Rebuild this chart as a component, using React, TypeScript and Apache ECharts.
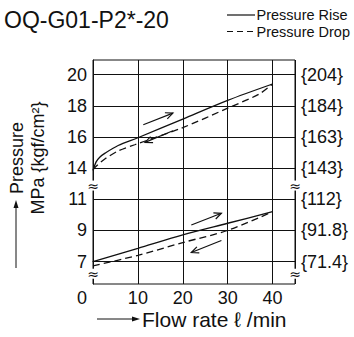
import React, { useEffect, useRef } from "react";
import * as echarts from "echarts";

// ---- data ----
const flowTicksMax = 45;
const leftTickLabels = ["7", "9", "11", "14", "16", "18", "20"];
const rightTickLabels = ["{71.4}", "{91.8}", "{112}", "{143}", "{163}", "{184}", "{204}"];
const tickIdx = [0, 1, 2, 3, 4, 5, 6];

const flowUpperRise = [0, 0.7, 1.5, 2.7, 5.6, 10, 20, 30, 40];
const pUpperRise = [13.85, 14.4, 14.7, 14.96, 15.45, 15.95, 17.15, 18.35, 19.4];
const flowUpperDrop = [0, 1, 2.7, 5.6, 9.3, 20, 30, 37, 40];
const pUpperDrop = [13.9, 14.2, 14.6, 15.1, 15.5, 16.6, 17.85, 18.75, 19.4];

const flowLower = [0, 10, 20, 30, 40];
const pLowerRise = [7.0, 7.85, 8.72, 9.46, 10.2];
const pLowerDrop = [6.72, 7.4, 8.22, 9.0, 10.2];

const legendNames = ["Pressure Rise", "Pressure Drop"];

// arrows: [flowStart, pStart, flowEnd, pEnd]
const arrowsUpper = [
  [11.2, 16.78, 17.8, 17.53],
  [17.8, 16.4, 11.6, 15.65],
];
const arrowsLower = [
  [21.9, 9.35, 28.6, 10.1],
  [28.6, 8.35, 21.9, 7.58],
];
// axis break marks: [flow, axis index]
const breakMarks = [
  [0, 2.44],
  [45, 2.44],
  [0, -0.39],
  [45, -0.39],
];

// broken pressure scale → linear index
const upperIdx = (p: number) => 3 + (p - 14) / 2;
const lowerIdx = (p: number) => (p - 7) / 2;

const FONT = "'Liberation Sans', Arial, Helvetica, sans-serif";
const INK = "#111";
const DASH = [7, 4];

export default function App() {
  const ref = useRef<HTMLDivElement>(null);
  useEffect(() => {
    if (!ref.current) return;
    const chart = echarts.init(ref.current, null, { renderer: "svg" });

    const mk = (fl: number[], ps: number[], f: (p: number) => number) =>
      fl.map((x, i) => [x, f(ps[i])]);

    const arrowData = [
      ...arrowsUpper.map((a) => [a[0], upperIdx(a[1]), a[2], upperIdx(a[3])]),
      ...arrowsLower.map((a) => [a[0], lowerIdx(a[1]), a[2], lowerIdx(a[3])]),
    ];

    const lineCommon = {
      type: "line",
      showSymbol: false,
      symbol: "none",
      smooth: 0.3,
      silent: true,
      xAxisIndex: 0,
      yAxisIndex: 0,
    };

    chart.setOption({
      animation: false,
      textStyle: { fontFamily: FONT },
      title: {
        text: "OQ-G01-P2*-20",
        left: 4,
        top: 8,
        padding: 0,
        textStyle: { fontSize: 23, fontWeight: "normal", color: INK, fontFamily: FONT },
      },
      grid: {
        left: 93,
        right: 59,
        top: 60,
        bottom: 53,
        containLabel: false,
        show: true,
        borderColor: INK,
        borderWidth: 1,
        backgroundColor: "transparent",
      },
      xAxis: {
        type: "value",
        min: 0,
        max: flowTicksMax,
        interval: 10,
        axisLine: { show: true, lineStyle: { color: INK, width: 1 } },
        axisTick: { show: false },
        splitLine: { show: true, lineStyle: { color: INK, width: 1 } },
        axisLabel: {
          fontSize: 18,
          color: INK,
          margin: 5,
          fontFamily: FONT,
          formatter: (v: number) => (v === 0 ? "{z|0}" : v === 45 ? "" : String(v)),
          rich: { z: { fontSize: 18, color: INK, fontFamily: FONT, padding: [0, 22, 0, 0] } },
        },
      },
      yAxis: [
        {
          type: "value",
          min: -0.72,
          max: 6.47,
          axisLine: { show: true, lineStyle: { color: INK, width: 1 } },
          axisTick: { show: false, customValues: tickIdx },
          splitLine: { show: false },
          axisLabel: {
            customValues: tickIdx,
            fontSize: 18,
            color: INK,
            margin: 6,
            fontFamily: FONT,
            formatter: (v: number) => leftTickLabels[Math.round(v)] ?? "",
          },
        },
        {
          type: "value",
          position: "right",
          min: -0.72,
          max: 6.47,
          axisLine: { show: false },
          axisTick: { show: false, customValues: tickIdx },
          splitLine: { show: false },
          axisLabel: {
            customValues: tickIdx,
            fontSize: 18,
            color: INK,
            margin: 6,
            fontFamily: FONT,
            formatter: (v: number) => rightTickLabels[Math.round(v)] ?? "",
          },
        },
      ],
      series: [
        {
          ...lineCommon,
          name: legendNames[0],
          data: mk(flowUpperRise, pUpperRise, upperIdx),
          lineStyle: { color: INK, width: 1.3, type: "solid" },
          itemStyle: { color: INK },
          markLine: {
            silent: true,
            symbol: ["none", "none"],
            label: { show: false },
            lineStyle: { color: INK, width: 1, type: "solid" },
            data: tickIdx.map((i) => ({ yAxis: i })),
          },
        },
        {
          ...lineCommon,
          name: legendNames[0],
          data: mk(flowLower, pLowerRise, lowerIdx),
          lineStyle: { color: INK, width: 1.3, type: "solid" },
          itemStyle: { color: INK },
        },
        {
          ...lineCommon,
          name: legendNames[1],
          data: mk(flowUpperDrop, pUpperDrop, upperIdx),
          lineStyle: { color: INK, width: 1.3, type: DASH },
          itemStyle: { color: INK },
        },
        {
          ...lineCommon,
          name: legendNames[1],
          data: mk(flowLower, pLowerDrop, lowerIdx),
          lineStyle: { color: INK, width: 1.3, type: DASH },
          itemStyle: { color: INK },
        },
        {
          type: "custom",
          silent: true,
          clip: false,
          z: 5,
          encode: { x: [0, 2], y: [1, 3] },
          data: arrowData,
          renderItem: (params: any, api: any) => {
            const s = api.coord([api.value(0), api.value(1)]);
            const e = api.coord([api.value(2), api.value(3)]);
            const ang = Math.atan2(e[1] - s[1], e[0] - s[0]);
            const L = 8;
            const a = 0.42;
            const h1 = [e[0] - L * Math.cos(ang - a), e[1] - L * Math.sin(ang - a)];
            const h2 = [e[0] - L * Math.cos(ang + a), e[1] - L * Math.sin(ang + a)];
            return {
              type: "group",
              children: [
                {
                  type: "line",
                  shape: { x1: s[0], y1: s[1], x2: e[0], y2: e[1] },
                  style: { stroke: INK, lineWidth: 1.2 },
                },
                {
                  type: "polyline",
                  shape: { points: [h1, e, h2] },
                  style: { stroke: INK, fill: "none", lineWidth: 1.2 },
                },
              ],
            };
          },
        },
        {
          type: "custom",
          silent: true,
          clip: false,
          z: 6,
          encode: { x: 0, y: 1 },
          data: breakMarks,
          renderItem: (params: any, api: any) => {
            const p = api.coord([api.value(0), api.value(1)]);
            return {
              type: "group",
              children: [
                {
                  type: "rect",
                  shape: { x: p[0] - 2, y: p[1] - 5, width: 4, height: 10 },
                  style: { fill: "#fff" },
                },
                {
                  type: "text",
                  x: p[0],
                  y: p[1],
                  style: {
                    text: "≈",
                    fontSize: 14,
                    fontFamily: "'DejaVu Sans', sans-serif",
                    fill: INK,
                    align: "center",
                    verticalAlign: "middle",
                  },
                },
              ],
            };
          },
        },
      ],
      graphic: [
        // legend
        {
          type: "line",
          shape: { x1: 227, y1: 15, x2: 255, y2: 15 },
          style: { stroke: INK, lineWidth: 1.2 },
        },
        {
          type: "text",
          x: 256.5,
          y: 15,
          style: {
            text: legendNames[0],
            fontSize: 14.5,
            fontFamily: FONT,
            fill: INK,
            align: "left",
            verticalAlign: "middle",
          },
        },
        {
          type: "line",
          shape: { x1: 227, y1: 31.5, x2: 255, y2: 31.5 },
          style: { stroke: INK, lineWidth: 1.2, lineDash: [6, 4] },
        },
        {
          type: "text",
          x: 256.5,
          y: 31.5,
          style: {
            text: legendNames[1],
            fontSize: 14.5,
            fontFamily: FONT,
            fill: INK,
            align: "left",
            verticalAlign: "middle",
          },
        },
        // y axis name
        {
          type: "text",
          x: 27,
          y: 158,
          rotation: Math.PI / 2,
          style: {
            text: "Pressure\nMPa {kgf/cm²}",
            fontSize: 18,
            lineHeight: 21,
            fontFamily: FONT,
            fill: INK,
            align: "center",
            verticalAlign: "middle",
          },
        },
        {
          type: "line",
          shape: { x1: 16, y1: 268, x2: 16, y2: 206 },
          style: { stroke: INK, lineWidth: 1 },
        },
        {
          type: "polygon",
          shape: { points: [[16, 200], [13.5, 208], [18.5, 208]] },
          style: { fill: INK },
        },
        // x axis name
        {
          type: "line",
          shape: { x1: 97, y1: 319, x2: 134, y2: 319 },
          style: { stroke: INK, lineWidth: 1 },
        },
        {
          type: "polygon",
          shape: { points: [[140, 319], [132, 316.5], [132, 321.5]] },
          style: { fill: INK },
        },
        {
          type: "text",
          x: 142,
          y: 319.5,
          style: {
            text: "Flow rate ℓ /min",
            fontSize: 21,
            fontFamily: FONT,
            fill: INK,
            align: "left",
            verticalAlign: "middle",
          },
        },
      ],
    });
    return () => chart.dispose();
  }, []);
  return (
    <div
      ref={ref}
      style={{ position: "fixed", left: 0, top: 0, width: 354, height: 337, background: "#fff" }}
    />
  );
}
